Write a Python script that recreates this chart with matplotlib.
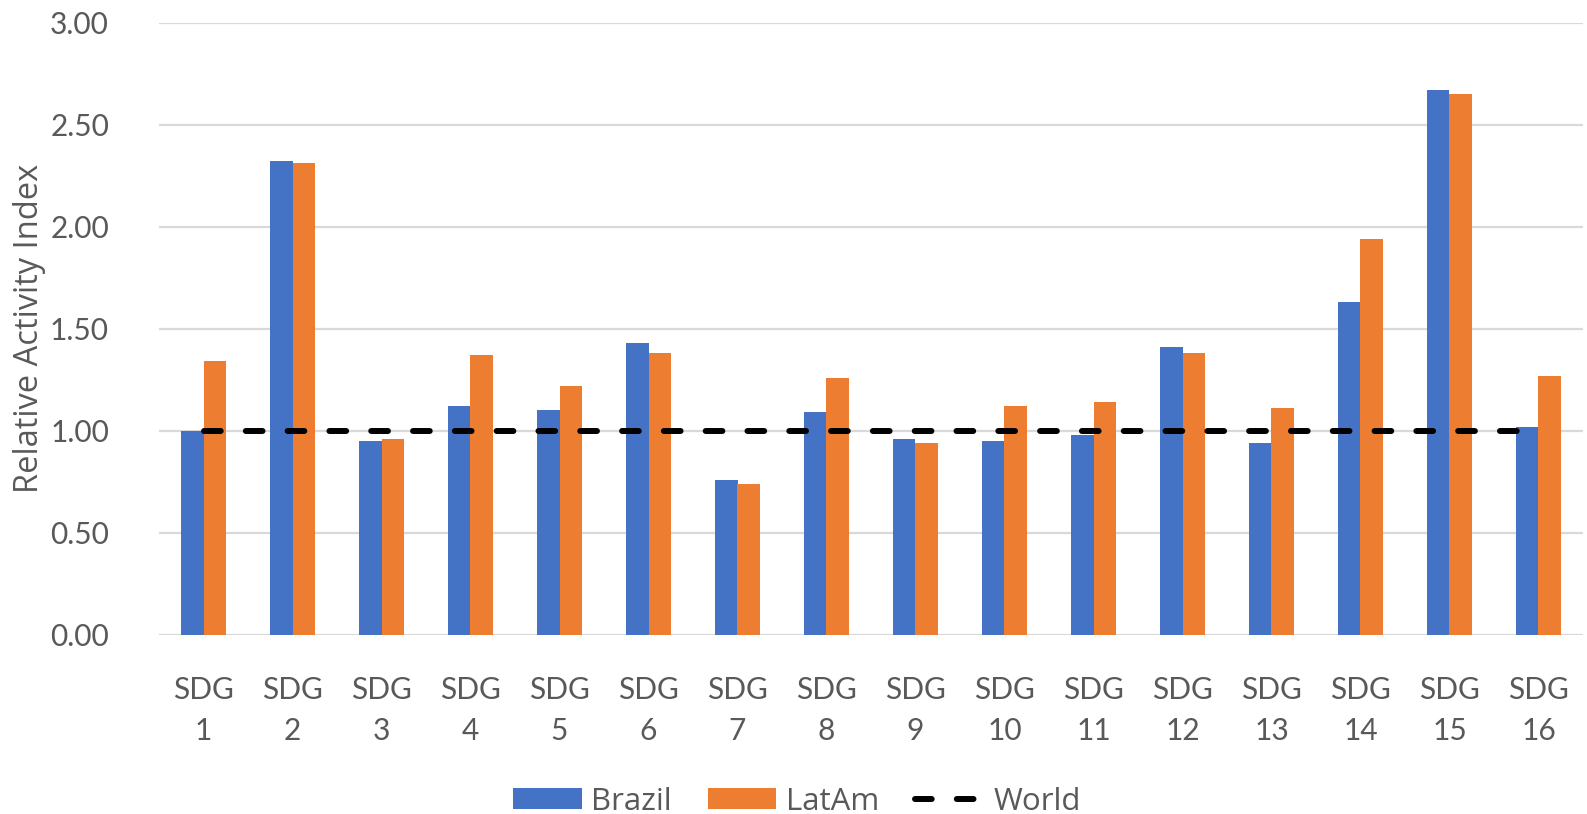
import matplotlib
matplotlib.use("Agg")
import matplotlib.pyplot as plt
import numpy as np

categories = [f"SDG\n{i}" for i in range(1, 17)]
brazil = [1.00, 2.32, 0.95, 1.12, 1.10, 1.43, 0.76, 1.09, 0.96, 0.95, 0.98, 1.41, 0.94, 1.63, 2.67, 1.02]
latam = [1.34, 2.31, 0.96, 1.37, 1.22, 1.38, 0.74, 1.26, 0.94, 1.12, 1.14, 1.38, 1.11, 1.94, 2.65, 1.27]
world = [1.0] * 16
yticks = [0.0, 0.5, 1.0, 1.5, 2.0, 2.5, 3.0]

blue = "#4472c4"
orange = "#ed7d31"
grey = "#595959"

plt.rcParams["font.family"] = ["Lato", "DejaVu Sans"]

fig = plt.figure(figsize=(15.87, 8.14), dpi=100)
W, H = 1587, 814
left, right, top, bottom = 159, 1583, 22.7, 634.7
ax = fig.add_axes([left / W, 1 - bottom / H, (right - left) / W, (bottom - top) / H])

x = np.arange(len(categories))
w = 0.25
b1 = ax.bar(x - w / 2, brazil, w, color=blue, label="Brazil", zorder=2)
b2 = ax.bar(x + w / 2, latam, w, color=orange, label="LatAm", zorder=2)
ln, = ax.plot(x, world, color="black", lw=4.3, linestyle=(0, (2.8, 4.2)),
              dash_capstyle="round", label="World", zorder=3)

ax.set_xlim(-0.5, len(categories) - 0.5)
ax.set_ylim(0, 3)
ax.set_yticks(yticks)
ax.set_yticklabels([f"{v:.2f}" for v in yticks])
ax.set_xticks(x)
ax.set_xticklabels(categories, linespacing=1.55)
ax.tick_params(axis="both", length=0, labelsize=21.5, colors=grey)
ax.tick_params(axis="x", pad=30)
ax.tick_params(axis="y", pad=36)

ax.grid(axis="y", color="#d9d9d9", lw=1.6, zorder=0)
for s in ax.spines.values():
    s.set_visible(False)

ax.set_ylabel("Relative Activity Index", fontsize=23.5, color=grey,
              family=["Open Sans", "DejaVu Sans"])
ax.yaxis.set_label_coords(-113 / (right - left), 0.5)

leg = fig.legend(handles=[b1, b2, ln], loc="lower center", bbox_to_anchor=(0.502, -0.038),
                 ncol=3, frameon=False, labelcolor=grey,
                 prop={"family": ["Open Sans", "DejaVu Sans"], "size": 22.5},
                 handlelength=2.2, handleheight=0.65, columnspacing=1.15, handletextpad=0.3)

fig.savefig("out.png", dpi=100)
